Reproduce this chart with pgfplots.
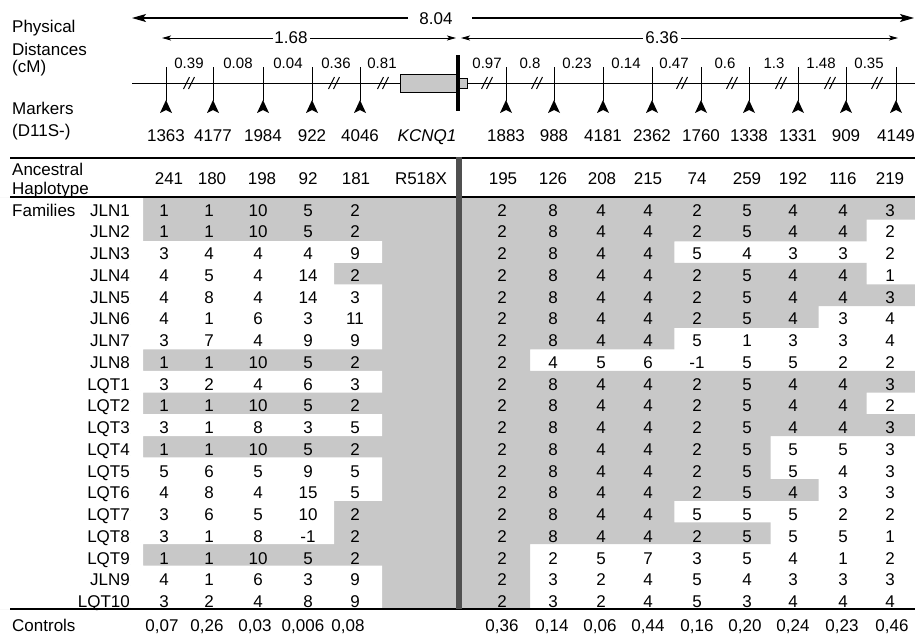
\documentclass[border=0pt]{standalone}
\usepackage{pgfplots}
\pgfplotsset{compat=1.18}
\usepackage{pgfplotstable}
\usepackage{fontspec}
\setmainfont{Liberation Sans}
\usetikzlibrary{arrows.meta}

\definecolor{cellgray}{RGB}{200,200,200}
\definecolor{bargray}{RGB}{80,80,80}

\newcommand\tbl{\fontsize{17}{20}\selectfont}
\newcommand\sml{\fontsize{15}{18}\selectfont}

% marker arrowhead (tip up, concave base)
\pgfdeclareplotmark{arrowup}{%
  \pgfpathmoveto{\pgfpoint{0pt}{7pt}}%
  \pgfpathlineto{\pgfpoint{-6pt}{-6pt}}%
  \pgfpathlineto{\pgfpoint{0pt}{-3pt}}%
  \pgfpathlineto{\pgfpoint{6pt}{-6pt}}%
  \pgfpathclose
  \pgfusepathqfill}
% break sign "//" on the map line
\pgfdeclareplotmark{slashes}{%
  \pgfpathmoveto{\pgfpoint{-5.5pt}{-6pt}}\pgfpathlineto{\pgfpoint{0.5pt}{6pt}}%
  \pgfpathmoveto{\pgfpoint{-0.5pt}{-6pt}}\pgfpathlineto{\pgfpoint{5.5pt}{6pt}}%
  \pgfusepathqstroke}

\pgfplotsset{
  lbl/.style={only marks, mark=*, mark size=0pt, mark options={draw=none, fill=none},
    nodes near coords, point meta=explicit symbolic,
    every node near coord/.append style={anchor=base, inner sep=0pt, font=\tbl, text=black}},
}

% families: lg / rg = number of shaded cells left / right of KCNQ1
\pgfplotstableread{
name  lg rg a b c  d  e  f g h i j  k l n o
JLN1  5  9  1 1 10 5  2  2 8 4 4 2  5 4 4 3
JLN2  5  8  1 1 10 5  2  2 8 4 4 2  5 4 4 2
JLN3  0  4  3 4 4  4  9  2 8 4 4 5  4 3 3 2
JLN4  1  8  4 5 4  14 2  2 8 4 4 2  5 4 4 1
JLN5  0  9  4 8 4  14 3  2 8 4 4 2  5 4 4 3
JLN6  0  7  4 1 6  3  11 2 8 4 4 2  5 4 3 4
JLN7  0  4  3 7 4  9  9  2 8 4 4 5  1 3 3 4
JLN8  5  1  1 1 10 5  2  2 4 5 6 -1 5 5 2 2
LQT1  0  9  3 2 4  6  3  2 8 4 4 2  5 4 4 3
LQT2  5  8  1 1 10 5  2  2 8 4 4 2  5 4 4 2
LQT3  0  9  3 1 8  3  5  2 8 4 4 2  5 4 4 3
LQT4  5  6  1 1 10 5  2  2 8 4 4 2  5 5 5 3
LQT5  0  6  5 6 5  9  5  2 8 4 4 2  5 5 4 3
LQT6  0  7  4 8 4  15 5  2 8 4 4 2  5 4 3 3
LQT7  1  4  3 6 5  10 2  2 8 4 4 5  5 5 2 2
LQT8  1  6  3 1 8  -1 2  2 8 4 4 2  5 5 5 1
LQT9  5  1  1 1 10 5  2  2 2 5 7 3  5 4 1 2
JLN9  0  1  4 1 6  3  9  2 3 2 4 5  4 3 3 3
LQT10 0  1  3 2 4  8  9  2 3 2 4 5  3 4 4 4
}\famtab

% ancestral haplotype and control frequencies: x, baseline, text
\pgfplotstableread{
x   y   lab
169 184 241
212 184 180
262 184 198
308 184 92
356 184 181
421 184 R518X
503 184 195
553 184 126
602 184 208
648 184 215
697 184 74
747 184 259
793 184 192
843 184 116
890 184 219
162 631 {0,07}
207 631 {0,26}
255 631 {0,03}
303 631 {0,006}
348 631 {0,08}
502 631 {0,36}
552 631 {0,14}
600 631 {0,06}
648 631 {0,44}
697 631 {0,16}
745 631 {0,20}
793 631 {0,24}
842 631 {0,23}
892 631 {0,46}
}\hdrtab

% markers (D11S-)
\pgfplotstableread{
x   lab
166 1363
213 4177
263 1984
312 922
360 4046
506 1883
554 988
603 4181
652 2362
701 1760
749 1338
798 1331
846 909
896 4149
}\mktab

% distances between markers (cM)
\pgfplotstableread{
x   lab
189 0.39
238 0.08
288 0.04
336 0.36
382 0.81
487 0.97
530 0.8
577 0.23
626 0.14
674 0.47
725 0.6
774 1.3
821 1.48
869 0.35
}\disttab

% map breaks
\pgfplotstableread{
x   y
189 83
334 83
383 83
487 83
537 83
682 83
732 83
781 83
830 83
877 83
}\breaktab

% span labels
\pgfplotstableread{
x   y    lab
436 24.5 8.04
291 43.5 1.68
662 43.5 6.36
}\spantab

\newcommand\cell[2]{\addplot[lbl] table[x expr=#2, y expr={216+21.75*\coordindex}, meta=#1]{\famtab};}

\begin{document}
\begin{tikzpicture}
\begin{axis}[
  width=917pt, height=635pt, scale only axis,
  xmin=0, xmax=917, ymin=0, ymax=635, y dir=reverse,
  hide axis, clip=false,
]
\addplot[draw=none] coordinates {(0,0)(917,635)};

% shaded haplotype blocks
\addplot[xbar, bar shift=0pt, bar width=21.8, fill=cellgray, draw=none]
  table[x expr={530+48.1*(\thisrow{rg}-1)}, y expr={208.8+21.63*\coordindex}]{\famtab};
\addplot[xbar, bar shift=0pt, bar width=21.8, fill=white, draw=none]
  table[x expr={382-47.8*\thisrow{lg}}, y expr={208.8+21.63*\coordindex}]{\famtab};

% table rules and mutation bar
\addplot[line width=2pt] coordinates {(10,158)(915,158)};
\addplot[line width=1.5pt] coordinates {(10,197)(915,197)};
\addplot[line width=1.5pt] coordinates {(10,609)(915,609)};
\addplot[line width=6pt, bargray] coordinates {(459,157)(459,609)};

% genetic map
\addplot[line width=1pt] coordinates {(132,83)(915,83)};
\addplot[line width=0.8pt, fill=cellgray] coordinates {(400,74)(458,74)(458,92)(400,92)(400,74)};
\addplot[line width=0.8pt, fill=cellgray] coordinates {(458,78)(467,78)(467,88)(458,88)(458,78)};
\addplot[line width=4pt] coordinates {(458,55)(458,111)};
\addplot[line width=1pt, quiver={u=0, v=34}] table[x=x, y expr=67]{\mktab};
\addplot[only marks, mark=arrowup] table[x=x, y expr=107]{\mktab};
\addplot[only marks, mark=slashes, mark options={line width=1pt}] table[x=x, y=y]{\breaktab};

% span arrows
\addplot[line width=1.2pt, -{Stealth[length=14pt, width=8pt, inset=3pt]}] coordinates {(408,18)(132,18)};
\addplot[line width=1.2pt, -{Stealth[length=14pt, width=8pt, inset=3pt]}] coordinates {(472,18)(914,18)};
\addplot[line width=0.8pt, -{Stealth[length=9pt, width=5pt, inset=2pt]}] coordinates {(273,38)(162,38)};
\addplot[line width=0.8pt, -{Stealth[length=9pt, width=5pt, inset=2pt]}] coordinates {(310,38)(456,38)};
\addplot[line width=0.8pt, -{Stealth[length=9pt, width=5pt, inset=2pt]}] coordinates {(643,38)(461,38)};
\addplot[line width=0.8pt, -{Stealth[length=9pt, width=5pt, inset=2pt]}] coordinates {(681,38)(898,38)};
\addplot[lbl] table[x=x, y=y, meta=lab]{\spantab};

% map labels
\addplot[lbl, every node near coord/.append style={font=\sml}] table[x=x, y expr=68, meta=lab]{\disttab};
\addplot[lbl] table[x=x, y expr=141, meta=lab]{\mktab};
\node[anchor=base, inner sep=0pt, font=\tbl\itshape] at (axis cs:427,141) {KCNQ1};

% row captions
\node[anchor=base west, inner sep=0pt, font=\tbl] at (axis cs:12,32) {Physical};
\node[anchor=base west, inner sep=0pt, font=\tbl] at (axis cs:12,55) {Distances};
\node[anchor=base west, inner sep=0pt, font=\tbl] at (axis cs:12,72) {(cM)};
\node[anchor=base west, inner sep=0pt, font=\tbl] at (axis cs:12,114) {Markers};
\node[anchor=base west, inner sep=0pt, font=\tbl] at (axis cs:12,136) {(D11S-)};
\node[anchor=base west, inner sep=0pt, font=\tbl] at (axis cs:12,175) {Ancestral};
\node[anchor=base west, inner sep=0pt, font=\tbl] at (axis cs:12,194) {Haplotype};
\node[anchor=base west, inner sep=0pt, font=\tbl] at (axis cs:12,216) {Families};
\node[anchor=base west, inner sep=0pt, font=\tbl] at (axis cs:12,631) {Controls};

% table body
\addplot[lbl, every node near coord/.append style={anchor=base east}]
  table[x expr=130, y expr={216+21.75*\coordindex}, meta=name]{\famtab};
\cell{a}{164}\cell{b}{209}\cell{c}{258}\cell{d}{308}\cell{e}{355}
\cell{f}{502}\cell{g}{553}\cell{h}{601}\cell{i}{648}\cell{j}{697}
\cell{k}{747}\cell{l}{793}\cell{n}{843}\cell{o}{890}
\addplot[lbl] table[x=x, y=y, meta=lab]{\hdrtab};
\end{axis}
\end{tikzpicture}
\end{document}
